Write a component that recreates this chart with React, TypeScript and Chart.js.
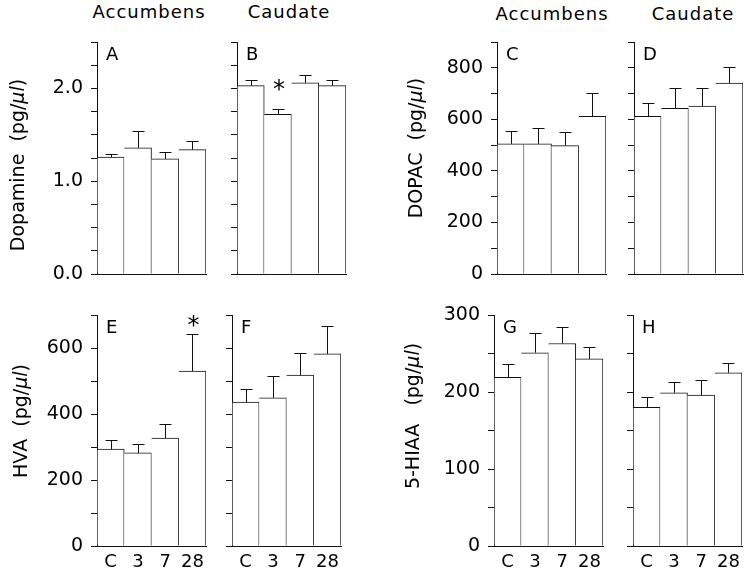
import React, { useEffect, useRef } from 'react';
import { Chart, registerables } from 'chart.js';

Chart.register(...registerables);

// ---------- data ----------
const categories = ['C', '3', '7', '28'];
const columnTitles = ['Accumbens', 'Caudate', 'Accumbens', 'Caudate'];
const panelLetters = ['A', 'B', 'C', 'D', 'E', 'F', 'G', 'H'];
const yTitleNames = ['Dopamine  ', 'DOPAC  ', 'HVA  ', '5-HIAA   '];
const unitPrefix = '(pg/';
const unitItalic = '\u03bcl';
const unitSuffix = ')';

const dopamineAccumbens = [1.26, 1.36, 1.24, 1.34];
const dopamineAccumbensErr = [1.29, 1.54, 1.32, 1.43];
const dopamineCaudate = [2.03, 1.72, 2.06, 2.03];
const dopamineCaudateErr = [2.09, 1.78, 2.14, 2.09];

const dopacAccumbens = [505, 505, 498, 612];
const dopacAccumbensErr = [553, 568, 550, 703];
const dopacCaudate = [612, 643, 651, 741];
const dopacCaudateErr = [663, 722, 722, 802];

const hvaAccumbens = [294, 282, 327, 530];
const hvaAccumbensErr = [321, 309, 370, 642];
const hvaCaudate = [436, 449, 518, 582];
const hvaCaudateErr = [476, 515, 585, 667];

const hiaaAccumbens = [219, 251, 263, 243];
const hiaaAccumbensErr = [237, 277, 285, 259];
const hiaaCaudate = [180, 199, 196, 225];
const hiaaCaudateErr = [194, 213, 215, 238];

// significance asterisks (value level of the star centre)
const starsDopamineCaudate = [null, 2.06, null, null];
const starsHvaAccumbens = [null, null, null, 688];
const noStars = [null, null, null, null];

// axis scales: [max, minor step, label step, decimals]
const dopamineAxis = [2.5, 0.25, 1, 1];
const dopacAxis = [900, 100, 200, 0];
const hvaAxis = [700, 100, 200, 0];
const hiaaAxis = [300, 50, 100, 0];

// ---------- layout ----------
const FONT = "'DejaVu Sans', Verdana, sans-serif";
const LEFT = 100;
const TOP = 26;
const RIGHT = 6;
const PLOT_W = 109;

type Spec = {
  letter: string;
  values: number[];
  errors: number[];
  stars: (number | null)[];
  axis: number[];
  title: string | null;
  titleDx: number;
  titleDy: number;
  showY: boolean;
  showX: boolean;
  axisX: number;
  plotTop: number;
  plotH: number;
};

const panels: Spec[] = [
  { letter: panelLetters[0], values: dopamineAccumbens, errors: dopamineAccumbensErr, stars: noStars, axis: dopamineAxis, title: yTitleNames[0], titleDx: 78, titleDy: 123, showY: true, showX: false, axisX: 97, plotTop: 42, plotH: 232 },
  { letter: panelLetters[1], values: dopamineCaudate, errors: dopamineCaudateErr, stars: starsDopamineCaudate, axis: dopamineAxis, title: null, titleDx: 0, titleDy: 0, showY: false, showX: false, axisX: 237, plotTop: 42, plotH: 232 },
  { letter: panelLetters[2], values: dopacAccumbens, errors: dopacAccumbensErr, stars: noStars, axis: dopacAxis, title: yTitleNames[1], titleDx: 80, titleDy: 106, showY: true, showX: false, axisX: 497, plotTop: 42, plotH: 232 },
  { letter: panelLetters[3], values: dopacCaudate, errors: dopacCaudateErr, stars: noStars, axis: dopacAxis, title: null, titleDx: 0, titleDy: 0, showY: false, showX: false, axisX: 634, plotTop: 42, plotH: 232 },
  { letter: panelLetters[4], values: hvaAccumbens, errors: hvaAccumbensErr, stars: starsHvaAccumbens, axis: hvaAxis, title: yTitleNames[2], titleDx: 75, titleDy: 106, showY: true, showX: true, axisX: 97, plotTop: 315, plotH: 231 },
  { letter: panelLetters[5], values: hvaCaudate, errors: hvaCaudateErr, stars: noStars, axis: hvaAxis, title: null, titleDx: 0, titleDy: 0, showY: false, showX: true, axisX: 232, plotTop: 315, plotH: 231 },
  { letter: panelLetters[6], values: hiaaAccumbens, errors: hiaaAccumbensErr, stars: noStars, axis: hiaaAxis, title: yTitleNames[3], titleDx: 80, titleDy: 101, showY: true, showX: true, axisX: 494, plotTop: 315, plotH: 231 },
  { letter: panelLetters[7], values: hiaaCaudate, errors: hiaaCaudateErr, stars: noStars, axis: hiaaAxis, title: null, titleDx: 0, titleDy: 0, showY: false, showX: true, axisX: 633, plotTop: 315, plotH: 231 },
];

const titlePos = [
  { x: 149, y: 1 },
  { x: 289, y: 1 },
  { x: 552, y: 3 },
  { x: 693, y: 3 },
];

function makeDecor(p: Spec) {
  return {
    id: 'decor' + p.letter,
    afterDatasetsDraw(chart: any) {
      const ctx = chart.ctx as CanvasRenderingContext2D;
      const ys = chart.scales.y;
      const meta = chart.getDatasetMeta(0);
      const area = chart.chartArea;
      ctx.save();
      ctx.strokeStyle = '#111';
      ctx.fillStyle = '#000';
      ctx.lineWidth = 1;
      meta.data.forEach((bar: any, i: number) => {
        const x = Math.round(bar.x) + 0.5;
        const y0 = ys.getPixelForValue(p.values[i]);
        const y1 = Math.round(ys.getPixelForValue(p.errors[i])) + 0.5;
        ctx.beginPath();
        ctx.moveTo(x, y0);
        ctx.lineTo(x, y1);
        ctx.moveTo(x - 6, y1);
        ctx.lineTo(x + 6, y1);
        ctx.stroke();
        const s = p.stars[i];
        if (s != null) {
          ctx.font = `24px ${FONT}`;
          ctx.textAlign = 'center';
          ctx.textBaseline = 'alphabetic';
          ctx.fillText('*', bar.x + 1, ys.getPixelForValue(s) + 14);
        }
      });
      ctx.font = `18px ${FONT}`;
      ctx.textAlign = 'left';
      ctx.textBaseline = 'alphabetic';
      ctx.fillText(p.letter, area.left + 9, area.top + 18);
      if (p.title) {
        const normal = `19px ${FONT}`;
        const italic = `italic 19px ${FONT}`;
        const parts: [string, string][] = [
          [p.title + unitPrefix, normal],
          [unitItalic, italic],
          [unitSuffix, normal],
        ];
        let total = 0;
        for (const [t, f] of parts) {
          ctx.font = f;
          total += ctx.measureText(t).width;
        }
        ctx.translate(area.left - p.titleDx, area.top + p.titleDy);
        ctx.rotate(-Math.PI / 2);
        ctx.textAlign = 'left';
        ctx.textBaseline = 'middle';
        let cx = -total / 2;
        for (const [t, f] of parts) {
          ctx.font = f;
          ctx.fillText(t, cx, 0);
          cx += ctx.measureText(t).width;
        }
      }
      ctx.restore();
    },
  };
}

function Panel({ spec }: { spec: Spec }) {
  const ref = useRef<HTMLCanvasElement>(null);
  const bottom = spec.showX ? 30 : 26;
  const W = LEFT + PLOT_W + RIGHT;
  const H = TOP + spec.plotH + bottom;

  useEffect(() => {
    const [max, step, labelStep, decimals] = spec.axis;
    const chart = new Chart(ref.current as HTMLCanvasElement, {
      type: 'bar',
      data: {
        labels: categories,
        datasets: [
          {
            data: spec.values,
            backgroundColor: '#ffffff',
            borderColor: '#111111',
            borderSkipped: false,
            borderWidth: (c: any) => ({ top: 1, right: 1, bottom: 0, left: c.dataIndex === 0 ? 1 : 0 }),
            categoryPercentage: 1,
            barPercentage: 1,
          } as any,
        ],
      },
      options: {
        responsive: false,
        animation: false,
        devicePixelRatio: 1,
        layout: { padding: { top: TOP, right: RIGHT, bottom: 0, left: 0 } },
        plugins: { legend: { display: false }, tooltip: { enabled: false } },
        scales: {
          x: {
            type: 'category',
            offset: true,
            grid: { display: true, drawOnChartArea: false, drawTicks: false, color: '#111' },
            border: { display: true, color: '#111', width: 1 },
            ticks: {
              display: spec.showX,
              padding: 6,
              color: '#000',
              autoSkip: false,
              maxRotation: 0,
              font: { family: FONT, size: 18 },
            },
            afterFit: (s: any) => {
              s.height = bottom;
            },
          },
          y: {
            min: 0,
            max,
            grid: { display: true, drawOnChartArea: false, drawTicks: true, tickLength: 6, color: '#111' },
            border: { display: true, color: '#111', width: 1 },
            ticks: {
              stepSize: step,
              autoSkip: false,
              padding: 8,
              color: '#000',
              font: { family: FONT, size: 19 },
              callback: (v: any) => {
                const n = Number(v);
                const r = n / labelStep;
                if (!spec.showY || Math.abs(r - Math.round(r)) > 1e-6) return '';
                return n.toFixed(decimals);
              },
            },
            afterFit: (s: any) => {
              s.width = LEFT;
            },
          },
        },
      } as any,
      plugins: [makeDecor(spec)],
    });
    return () => chart.destroy();
  }, [spec]);

  return (
    <canvas
      ref={ref}
      width={W}
      height={H}
      style={{ position: 'absolute', left: spec.axisX - LEFT, top: spec.plotTop - TOP, width: W, height: H }}
    />
  );
}

export default function App() {
  return (
    <div
      style={{
        position: 'absolute',
        left: 0,
        top: 0,
        width: 750,
        height: 576,
        background: '#fff',
        overflow: 'hidden',
        fontFamily: FONT,
      }}
    >
      {columnTitles.map((t, i) => (
        <div
          key={i}
          style={{
            position: 'absolute',
            left: titlePos[i].x,
            top: titlePos[i].y,
            transform: 'translateX(-50%)',
            fontSize: 18,
            letterSpacing: '1px',
            whiteSpace: 'nowrap',
            color: '#000',
            lineHeight: 'normal',
          }}
        >
          {t}
        </div>
      ))}
      {panels.map((p, i) => (
        <Panel key={i} spec={p} />
      ))}
    </div>
  );
}
